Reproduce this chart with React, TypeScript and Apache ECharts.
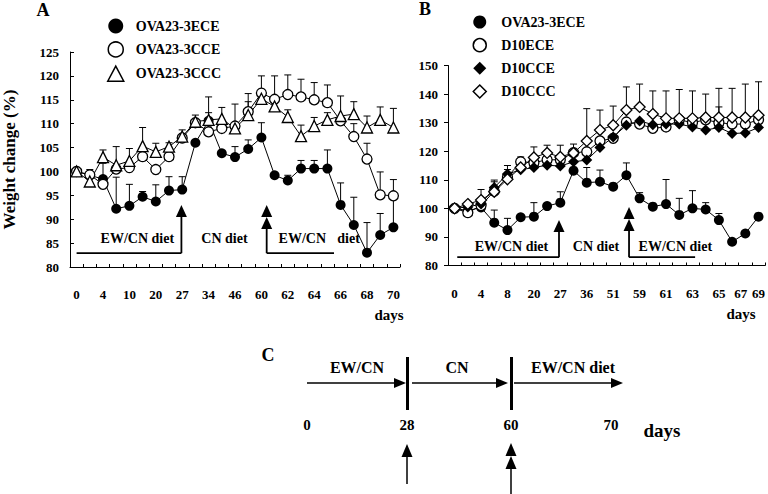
import React, { useEffect, useRef } from "react";
import * as echarts from "echarts";

const FONT = "'Liberation Serif', 'Times New Roman', Times, serif";

// ---------- Panel A ----------
const tickLabelsA = ["0", "", "4", "", "10", "", "20", "", "27", "", "34", "", "46", "", "60", "", "62", "", "64", "", "66", "", "68", "", "70"];
const aECE = [100, 99.2, 98.4, 92.2, 92.8, 94.7, 93.7, 96.0, 96.2, 106.0, 110.6, 103.8, 103.0, 104.7, 107.1, 99.2, 98.1, 100.6, 100.6, 100.6, 93.0, 88.8, 83.0, 86.7, 88.3];
const aECEErr = [0, 0, 3.3, 6.6, 4.5, 1.1, 3.5, 2.9, 2.7, 0, 5.0, 0, 2.2, 1.9, 3.1, 0, 1.1, 1.7, 1.7, 3.9, 4.6, 5.8, 6.3, 4.5, 6.3];
const aCCE = [100, 99.3, 97.3, 100.5, 100.8, 103.1, 100.4, 103.1, 107.0, 110.2, 108.3, 109.0, 109.5, 112.5, 116.4, 115.1, 116.1, 115.6, 115.0, 114.4, 110.6, 107.3, 102.6, 95.1, 94.9];
const aCCEErr = [0, 0, 0, 0, 0, 0, 0, 0, 0, 1.6, 0, 0, 0, 3.8, 3.6, 4.9, 4.1, 3.7, 3.6, 3.7, 0, 2.7, 3.3, 4.8, 3.4];
const aCCC = [100, 97.9, 103.0, 101.3, 102.2, 105.3, 104.1, 105.2, 107.3, 110.4, 110.8, 111.0, 109.0, 111.8, 115.2, 113.6, 111.4, 107.4, 109.5, 110.8, 111.6, 112.0, 109.2, 110.8, 109.2];
const aCCCErr = [0, 2.5, 1.5, 3.9, 2.6, 3.9, 1.8, 0.8, 1.4, 0.4, 1.5, 2.4, 5.1, 2.8, 1.0, 1.5, 1.5, 2.3, 1.8, 1.5, 4.2, 2.6, 2.4, 2.7, 4.0];

// ---------- Panel B ----------
const tickLabelsB = ["0", "", "4", "", "8", "", "20", "", "27", "", "36", "", "51", "", "59", "", "61", "", "63", "", "65", "", "67", "69"];
const bECE = [100, 99.2, 100.3, 95.0, 92.4, 96.9, 97.1, 100.8, 102.0, 113.2, 109.0, 109.3, 107.6, 111.6, 103.5, 100.6, 101.5, 97.7, 100.0, 99.6, 95.9, 88.3, 91.2, 97.1];
const bECEErr = [0, 0, 0, 4.4, 4.1, 0, 4.9, 0, 3.8, 0, 5.3, 4.1, 0, 4.3, 2.0, 0, 8.6, 5.8, 6.2, 2.4, 2.3, 0, 0, 0];
const bD10ECE = [100, 98.5, 101.0, 106.0, 111.0, 116.3, 116.0, 117.0, 117.0, 119.5, 119.8, 123.6, 124.5, 130.2, 129.5, 128.0, 128.5, 131.0, 130.0, 131.0, 130.0, 129.5, 129.5, 131.0];
const bD10ECEErr = [0, 0, 0, 0, 0, 0, 0, 0, 0, 1.0, 0, 0, 0, 0, 0, 0, 0, 0, 0, 0, 5.5, 0, 0, 0];
const bD10CCE = [100, 100.5, 101.5, 107.3, 112.0, 113.5, 114.3, 115.1, 114.8, 116.3, 116.9, 121.3, 125.0, 129.1, 130.6, 129.3, 129.5, 129.5, 128.5, 127.4, 128.3, 126.2, 126.4, 128.3];
const bD10CCEErr = [0, 0, 0, 2.0, 3.0, 0, 0, 0, 0, 0, 0, 0, 0, 0, 0, 0, 0, 0, 0, 0, 0, 0, 0, 0];
const bD10CCC = [100, 101.5, 102.9, 105.8, 110.2, 114.3, 117.8, 119.4, 118.0, 119.4, 123.6, 127.4, 129.1, 134.4, 135.5, 133.0, 131.5, 131.5, 131.5, 131.8, 131.8, 131.8, 131.8, 132.6];
const bD10CCCErr = [0, 0, 3.7, 4.1, 3.4, 3.7, 3.7, 2.7, 4.1, 3.1, 11.3, 7.0, 6.7, 8.1, 8.0, 8.1, 9.6, 10.1, 9.6, 8.2, 10.2, 10.2, 11.7, 11.7];

// ---------- Panel C (timeline) ----------
const timelineDays = ["0", "28", "60", "70"];
const timelinePhases = ["EW/CN", "CN", "EW/CN diet"];

const labelStyle = { fontFamily: FONT, fontWeight: "bold" as const, color: "#000" };

function errorSeries(gi: number, values: number[], errs: number[]) {
  return {
    type: "custom",
    xAxisIndex: gi,
    yAxisIndex: gi,
    z: 1,
    silent: true,
    clip: false,
    data: values.map((v, i) => [i, v, errs[i]]),
    renderItem: (_p: any, api: any) => {
      const e = api.value(2);
      if (!e) return null;
      const i = api.value(0);
      const v = api.value(1);
      const p0 = api.coord([i, v]);
      const p1 = api.coord([i, v + e]);
      return {
        type: "group",
        children: [
          { type: "line", shape: { x1: p0[0], y1: p0[1], x2: p1[0], y2: p1[1] }, style: { stroke: "#000", lineWidth: 1 } },
          { type: "line", shape: { x1: p1[0] - 3.5, y1: p1[1], x2: p1[0] + 3.5, y2: p1[1] }, style: { stroke: "#000", lineWidth: 1 } },
        ],
      };
    },
  };
}

function lineSeries(name: string, gi: number, values: number[], symbol: string, filled: boolean, size: number) {
  return {
    type: "line",
    name,
    xAxisIndex: gi,
    yAxisIndex: gi,
    data: values,
    symbol,
    symbolSize: size,
    showAllSymbol: true,
    z: 3,
    lineStyle: { color: "#000", width: 1 },
    itemStyle: { color: filled ? "#000" : "#fff", borderColor: "#000", borderWidth: filled ? 0 : 1.3 },
    emphasis: { disabled: true },
  };
}

type Bracket = { from: number; to: number; tip: number; heads: number };
function annotationSeries(gi: number, base: number, brackets: Bracket[], texts: [string, number][], textV: number) {
  return {
    type: "custom",
    xAxisIndex: gi,
    yAxisIndex: gi,
    z: 4,
    silent: true,
    clip: false,
    data: [[0, base]],
    renderItem: (_p: any, api: any) => {
      const x0 = api.coord([0, base])[0];
      const x1 = api.coord([1, base])[0];
      const X = (f: number) => x0 + (x1 - x0) * f;
      const Y = (v: number) => api.coord([0, v])[1];
      const children: any[] = [];
      const yb = Y(base);
      brackets.forEach((b) => {
        const xv = X(b.to);
        const xh = X(b.from);
        const tipY = Y(b.tip);
        const hh = 12;
        children.push({ type: "line", shape: { x1: xh, y1: yb, x2: xv, y2: yb }, style: { stroke: "#000", lineWidth: 1.8 } });
        children.push({ type: "line", shape: { x1: xv, y1: yb, x2: xv, y2: tipY + hh * b.heads - 1 }, style: { stroke: "#000", lineWidth: 1.8 } });
        for (let k = 0; k < b.heads; k++) {
          const t = tipY + k * hh;
          children.push({ type: "polygon", shape: { points: [[xv, t], [xv - 5.5, t + hh], [xv + 5.5, t + hh]] }, style: { fill: "#000" } });
        }
      });
      texts.forEach(([s, f]) => {
        children.push({
          type: "text",
          x: X(f),
          y: Y(textV),
          style: { text: s, fill: "#000", fontFamily: FONT, fontWeight: "bold", fontSize: 14, align: "center", verticalAlign: "middle", textAlign: "center", textVerticalAlign: "middle" },
        });
      });
      return { type: "group", children };
    },
  };
}

function xAxisCfg(gi: number, labels: string[], shiftLeft: number[]) {
  return {
    type: "category",
    gridIndex: gi,
    data: labels.map((_, i) => String(i)),
    boundaryGap: true,
    axisLine: { show: true, lineStyle: { color: "#000", width: 1 } },
    axisTick: { show: true, inside: true, length: 3, interval: 0, lineStyle: { color: "#000" } },
    axisLabel: {
      interval: 0,
      margin: 21,
      fontSize: 13,
      ...labelStyle,
      formatter: (_v: string, idx: number) => (shiftLeft.includes(idx) && labels[idx] ? `{s|${labels[idx]}}` : labels[idx]),
      rich: { s: { fontSize: 13, fontFamily: FONT, fontWeight: "bold", color: "#000", padding: [0, 9, 0, 0] } },
    },
    splitLine: { show: false },
  };
}

function T(text: string, x: number, y: number, size: number, align = "center") {
  return {
    type: "text",
    x,
    y,
    silent: true,
    style: { text, fill: "#000", fontFamily: FONT, fontWeight: "bold", fontSize: size, align, verticalAlign: "middle", textAlign: align, textVerticalAlign: "middle" },
  };
}
const L = (x1: number, y1: number, x2: number, y2: number, w = 1.5) => ({ type: "line", silent: true, shape: { x1, y1, x2, y2 }, style: { stroke: "#000", lineWidth: w } });
const P = (pts: number[][]) => ({ type: "polygon", silent: true, shape: { points: pts }, style: { fill: "#000" } });
const rightHead = (x: number, y: number) => P([[x, y], [x - 12, y - 5], [x - 12, y + 5]]);
const upHead = (x: number, y: number) => P([[x, y], [x - 5.5, y + 13], [x + 5.5, y + 13]]);

export default function App() {
  const ref = useRef<HTMLDivElement>(null);
  useEffect(() => {
    if (!ref.current) return;
    const chart = echarts.init(ref.current, undefined, { renderer: "svg" });
    const open = { color: "#fff", borderColor: "#000", borderWidth: 1.5 };
    const filled = { color: "#000", borderWidth: 0 };
    const option: any = {
      animation: false,
      backgroundColor: "#fff",
      grid: [
        { left: 68, top: 52, width: 332, height: 215 },
        { left: 448, top: 65.5, width: 319, height: 200 },
      ],
      xAxis: [xAxisCfg(0, tickLabelsA, []), xAxisCfg(1, tickLabelsB, [22])],
      yAxis: [
        {
          type: "value",
          gridIndex: 0,
          min: 80,
          max: 125,
          interval: 5,
          axisLine: { show: true, lineStyle: { color: "#000" } },
          axisTick: { show: true, inside: true, length: 4, lineStyle: { color: "#000" } },
          axisLabel: { margin: 11, fontSize: 13, ...labelStyle },
          splitLine: { show: false },
          name: "Weight change (%)",
          nameLocation: "middle",
          nameGap: 52,
          nameRotate: 90,
          nameTextStyle: { fontSize: 17, ...labelStyle },
        },
        {
          type: "value",
          gridIndex: 1,
          min: 80,
          max: 150,
          interval: 10,
          axisLine: { show: true, lineStyle: { color: "#000" } },
          axisTick: { show: true, inside: false, length: 4, lineStyle: { color: "#000" } },
          axisLabel: { margin: 10, fontSize: 13, ...labelStyle },
          splitLine: { show: false },
        },
      ],
      legend: [
        {
          orient: "vertical",
          left: 102,
          top: 13.5,
          itemWidth: 16,
          itemHeight: 15,
          itemGap: 7.7,
          selectedMode: false,
          textStyle: { fontSize: 14, ...labelStyle, padding: [0, 0, 0, 7] },
          data: [
            { name: "OVA23-3ECE", icon: "circle", itemStyle: filled },
            { name: "OVA23-3CCE", icon: "circle", itemStyle: open },
            { name: "OVA23-3CCC", icon: "triangle", itemStyle: open },
          ],
        },
        {
          orient: "vertical",
          left: 467.5,
          top: 10,
          itemWidth: 13,
          itemHeight: 13,
          itemGap: 8.9,
          selectedMode: false,
          textStyle: { fontSize: 14, ...labelStyle, padding: [0, 0, 0, 10] },
          data: [
            { name: "OVA23-3ECE", icon: "circle", itemStyle: filled },
            { name: "D10ECE", icon: "circle", itemStyle: open },
            { name: "D10CCE", icon: "diamond", itemStyle: filled },
            { name: "D10CCC", icon: "diamond", itemStyle: open },
          ],
        },
      ],
      series: [
        errorSeries(0, aECE, aECEErr),
        errorSeries(0, aCCE, aCCEErr),
        errorSeries(0, aCCC, aCCCErr),
        lineSeries("OVA23-3ECE", 0, aECE, "circle", true, 10),
        lineSeries("OVA23-3CCE", 0, aCCE, "circle", false, 10),
        lineSeries("OVA23-3CCC", 0, aCCC, "triangle", false, 11),
        annotationSeries(
          0,
          82.9,
          [
            { from: 0.0, to: 7.94, tip: 93.0, heads: 1 },
            { from: 19.5, to: 14.4, tip: 93.0, heads: 2 },
          ],
          [["EW/CN diet", 4.6], ["CN diet", 11.2], ["EW/CN", 17.1], ["diet", 20.6]],
          85.9
        ),
        errorSeries(1, bECE, bECEErr),
        errorSeries(1, bD10ECE, bD10ECEErr),
        errorSeries(1, bD10CCE, bD10CCEErr),
        errorSeries(1, bD10CCC, bD10CCCErr),
        lineSeries("OVA23-3ECE", 1, bECE, "circle", true, 10),
        lineSeries("D10ECE", 1, bD10ECE, "circle", false, 10),
        lineSeries("D10CCE", 1, bD10CCE, "diamond", true, 11),
        lineSeries("D10CCC", 1, bD10CCC, "diamond", false, 11),
        annotationSeries(
          1,
          82.9,
          [
            { from: 0.2, to: 7.9, tip: 95.9, heads: 1 },
            { from: 18.2, to: 13.2, tip: 100.5, heads: 2 },
          ],
          [["EW/CN diet", 4.3], ["CN diet", 10.7], ["EW/CN diet", 16.7]],
          86.5
        ),
      ],
      graphic: [
        T("A", 43, 10, 18),
        T("B", 425, 9, 18),
        T("days", 389, 315, 15),
        T("days", 741, 314, 15),
        // Panel C
        T("C", 268, 355, 18),
        L(307, 383, 396, 383),
        rightHead(406, 383),
        L(407.5, 357, 407.5, 410, 3),
        L(412, 383, 498, 383),
        rightHead(508, 383),
        L(511.5, 357, 511.5, 410, 3),
        L(514, 383, 612, 383),
        rightHead(623, 383),
        T(timelinePhases[0], 357, 367, 16),
        T(timelinePhases[1], 457, 367, 16),
        T(timelinePhases[2], 573, 367, 16),
        T(timelineDays[0], 307, 425, 15),
        T(timelineDays[1], 407, 425, 15),
        T(timelineDays[2], 511, 425, 15),
        T(timelineDays[3], 611, 425, 15),
        T("days", 662, 430, 19),
        L(407, 484, 407, 456, 1.5),
        upHead(407, 444),
        L(511, 494, 511, 469, 1.5),
        upHead(511, 443),
        upHead(511, 456),
      ],
    };
    chart.setOption(option);
    return () => chart.dispose();
  }, []);
  return <div ref={ref} style={{ width: 768, height: 494, position: "absolute", left: 0, top: 0 }} />;
}
